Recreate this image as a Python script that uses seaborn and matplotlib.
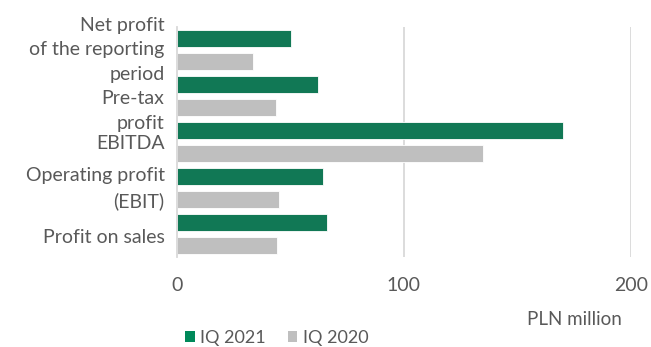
import matplotlib
matplotlib.use("Agg")
import matplotlib.pyplot as plt
import matplotlib.transforms as mtransforms
import seaborn as sns
import pandas as pd
from matplotlib.patches import Patch

categories = [
    "Net profit\nof the reporting\nperiod",
    "Pre-tax\nprofit",
    "EBITDA",
    "Operating profit\n(EBIT)",
    "Profit on sales",
]
series_names = ["IQ 2021", "IQ 2020"]
values_2021 = [50.2, 61.9, 170.3, 64.5, 66.2]
values_2020 = [33.6, 43.4, 134.9, 44.9, 43.9]
x_ticks = [0, 100, 200]

colors = {"IQ 2021": "#00895A", "IQ 2020": "#BFBFBF"}
text_color = "#595959"
grid_color = "#D9D9D9"

df = pd.DataFrame({
    "category": categories * 2,
    "value": values_2021 + values_2020,
    "series": [series_names[0]] * len(categories) + [series_names[1]] * len(categories),
})

sns.set_theme(style="white")
plt.rcParams["font.family"] = ["Lato", "DejaVu Sans"]

fig = plt.figure(figsize=(6.51, 3.47), dpi=100)
ax = fig.add_axes([0.272, 0.259, 0.697, 0.663])

sns.barplot(
    data=df, y="category", x="value", hue="series", order=categories,
    hue_order=series_names, palette=colors, orient="h",
    width=1.0, gap=0.24, edgecolor="white", linewidth=0.6,
    legend=False, ax=ax,
)

ax.set_xlim(0, 200)
ax.set_xticks(x_ticks)
ax.set_xticklabels([str(t) for t in x_ticks])
ax.set_ylim(len(categories) - 0.5, -0.5)
for t in x_ticks[1:]:
    ax.axvline(t, color=grid_color, lw=1.3, zorder=0)
for side in ["top", "right", "bottom"]:
    ax.spines[side].set_visible(False)
ax.spines["left"].set_color(grid_color)
ax.spines["left"].set_linewidth(1.3)

ax.set_xlabel("")
ax.set_ylabel("")
ax.tick_params(axis="x", length=0, pad=14, labelsize=14, labelcolor=text_color)
ax.tick_params(axis="y", length=0, pad=9, labelsize=14, labelcolor=text_color)

# wrapped category labels are nudged vertically so neighbouring lines don't collide
label_shift_pt = [4.0, -7.0, 0.0, 3.5, -1.0]
for lbl, dy in zip(ax.get_yticklabels(), label_shift_pt):
    lbl.set_linespacing(1.55)
    lbl.set_horizontalalignment("right")
    lbl.set_transform(lbl.get_transform() +
                      mtransforms.ScaledTranslation(0, dy / 72, fig.dpi_scale_trans))

fig.text(0.883, 0.078, "PLN million", ha="center", va="center",
         fontsize=13.5, color=text_color)

handles = [Patch(facecolor=colors[s], edgecolor="none") for s in series_names]
fig.legend(handles, series_names, loc="center left", bbox_to_anchor=(0.284, 0.025),
           ncol=2, frameon=False, fontsize=13, labelcolor=text_color,
           handlelength=0.55, handleheight=0.55, handletextpad=0.3,
           columnspacing=1.2, borderaxespad=0, borderpad=0)

fig.savefig("out.png", dpi=100)
